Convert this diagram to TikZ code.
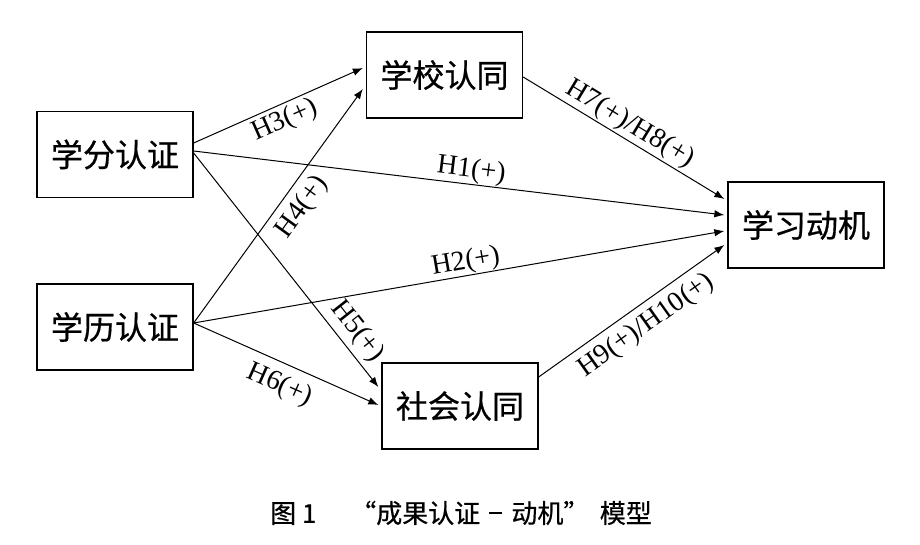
\documentclass[tikz,border=0pt]{standalone}
\usepackage{fontspec}
\setmainfont{Liberation Serif}
\newfontfamily\cjk{Noto Sans CJK SC}[FakeBold=0.6]
\usetikzlibrary{arrows.meta,calc}
\begin{document}
\begin{tikzpicture}[x=1pt,y=-1pt,
  box/.style={draw, line width=1.3pt, minimum width=156pt, minimum height=86pt, inner sep=0pt, font=\cjk\fontsize{32}{36}\selectfont},
  link/.style={line width=1pt, -{Latex[length=10pt,width=7.5pt]}},
  lab/.style={sloped, inner sep=0pt, font=\fontsize{28}{32}\selectfont},
  captext/.style={inner sep=0pt, font=\cjk\fontsize{26}{30}\selectfont}]
\fill[white] (0,0) rectangle (920,545);
\useasboundingbox (0,0) rectangle (920,545);
\node[box] (xf) at (115,154.5) {学分认证};
\node[box] (xl) at (115,327) {学历认证};
\node[box] (xx) at (444.5,75) {学校认同};
\node[box] (sh) at (460,406) {社会认同};
\node[box] (dj) at (806,225) {学习动机};
% from 学分认证
\draw[link] ($(xf.east)+(0,-11.5)$) -- node[lab, pos=.5, below=3.5pt] {H3(+)} ($(xx.west)+(-3,-7)$);
\draw[link] ($(xf.east)+(0,-3.5)$) -- node[lab, pos=.52, above=0.8pt] {H1(+)} ($(dj.west)+(-3,-10)$);
\draw[link] ($(xf.east)+(0,-1.5)$) -- node[lab, pos=.81, above=5pt] {H5(+)} ($(sh.west)+(-3,-19)$);
% from 学历认证
\draw[link] ($(xl.east)+(0,-4)$) -- node[lab, pos=.545, below=7pt] {H4(+)} ($(xx.west)+(-3,14)$);
\draw[link] ($(xl.east)+(0,-4)$) -- node[lab, pos=.517, above=0.3pt] {H2(+)} ($(dj.west)+(-3,6)$);
\draw[link] ($(xl.east)+(0,-4)$) -- node[lab, pos=.515, below=9pt] {H6(+)} ($(sh.west)+(-3,-1)$);
% mediators
\draw[link] ($(xx.east)+(0,2)$) -- node[lab, pos=.493, above=1.8pt] {H7(+)/H8(+)} ($(dj.west)+(-3,-26)$);
\draw[link] ($(sh.east)+(0,-29)$) -- node[lab, pos=.516, below=7.3pt] {H9(+)/H10(+)} ($(dj.west)+(-3,20)$);
% caption
\node[captext] (caption) at (461,513) {图 1\hspace{1.3em}“成果认证\hspace{0.35em}\rule[0.33em]{0.5em}{0.07em}\hspace{0.35em}动机”\hspace{0.4em}模型};
\end{tikzpicture}
\end{document}
